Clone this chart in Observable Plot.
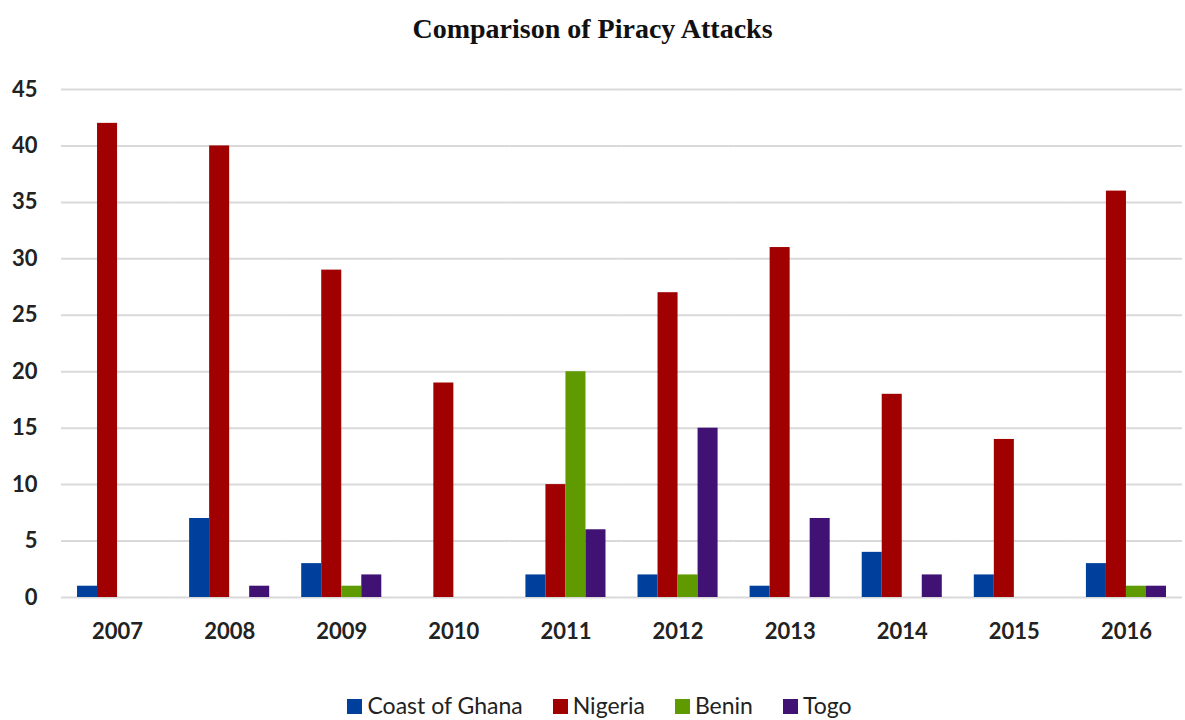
<!DOCTYPE html>
<html><head><meta charset="utf-8">
<script src="https://cdn.jsdelivr.net/npm/d3@7"></script>
<script src="https://cdn.jsdelivr.net/npm/@observablehq/plot@0.6"></script>
<style>
body{margin:0;background:#fff;width:1185px;height:720px;overflow:hidden}
#title{font:bold 28px "Liberation Serif",serif;height:55px;line-height:57px;text-align:center;color:#111}
#chart svg{display:block}
#legend{font:23px Lato,sans-serif;display:flex;justify-content:center;gap:30px;color:#222;margin-top:22px;line-height:26px;padding-left:14px}
#legend span.sw{display:inline-block;width:15px;height:15px;margin-right:5px;vertical-align:0px}
</style>
</head><body>
<div id="title">Comparison of Piracy Attacks</div>
<div id="chart"></div>
<div id="legend"></div>
<script>
const years = ["2007","2008","2009","2010","2011","2012","2013","2014","2015","2016"];
const countries = ["Coast of Ghana","Nigeria","Benin","Togo"];
const ghana   = [1, 7, 3, 0, 2, 2, 1, 4, 2, 3];
const nigeria = [42, 40, 29, 19, 10, 27, 31, 18, 14, 36];
const benin   = [0, 0, 1, 0, 20, 2, 0, 0, 0, 1];
const togo    = [0, 1, 2, 0, 6, 15, 7, 2, 0, 1];
const yTicks  = [0, 5, 10, 15, 20, 25, 30, 35, 40, 45];
const colors  = ["#003f9c", "#a00000", "#5f9a00", "#3f1273"];

const series = [ghana, nigeria, benin, togo];
const data = years.flatMap((yr, i) => series.map((s, j) => ({year: yr, country: countries[j], value: s[i]})));

const chart = Plot.plot({
  width: 1185, height: 615,
  marginTop: 34, marginBottom: 73, marginLeft: 61, marginRight: 3,
  style: {fontFamily: "Lato, sans-serif", color: "#222", background: "#fff"},
  fx: {domain: years, paddingInner: 0, paddingOuter: 0, round: false, label: null},
  x: {domain: countries, paddingInner: 0, paddingOuter: 0.8, round: false, axis: null},
  y: {domain: [0, 45], label: null},
  color: {domain: countries, range: colors},
  marks: [
    Plot.ruleY(yTicks, {stroke: "#d9d9d9", strokeWidth: 2}),
    Plot.barY(data, {fx: "year", x: "country", y: "value", fill: "country", inset: 0}),
    Plot.axisY({ticks: yTicks, tickSize: 0, tickPadding: 24, fontSize: 22, fontWeight: "bold", label: null}),
    Plot.axisFx({anchor: "bottom", tickSize: 0, tickPadding: 26, fontSize: 22, fontWeight: "bold", label: null})
  ]
});
document.getElementById("chart").appendChild(chart);

const legend = document.getElementById("legend");
countries.forEach((c, i) => {
  const item = document.createElement("div");
  item.innerHTML = `<span class="sw" style="background:${colors[i]}"></span>${c}`;
  legend.appendChild(item);
});
</script>
</body></html>
